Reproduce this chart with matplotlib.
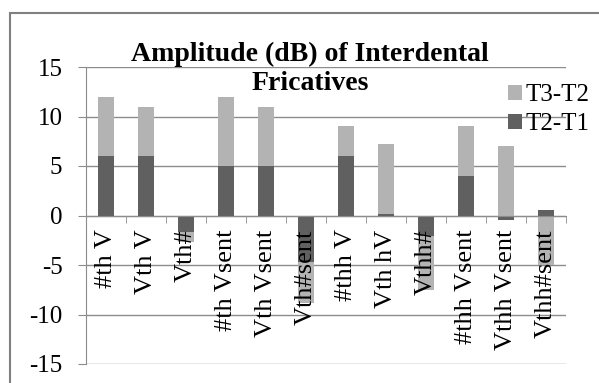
import numpy as np
import matplotlib.pyplot as plt
from matplotlib.patches import Rectangle

categories = ['#th V', 'Vth V', 'Vth#', '#th Vsent', 'Vth Vsent', 'Vth#sent',
              '#thh V', 'Vth hV', 'Vthh#', '#thh Vsent', 'Vthh Vsent', 'Vthh#sent']
t2_t1 = [6, 6, -1.7, 5, 5, -4.7, 6, 0.2, -2.1, 4, -0.5, 0.6]
t3_t2 = [6, 5, -1.0, 7, 6, -4.1, 3, 7, -5.4, 5, 7, -5.0]

dark = '#606060'
light = '#b3b3b3'
grid_c = '#8c8c8c'

plt.rcParams['font.family'] = ['Liberation Serif', 'DejaVu Serif']
plt.rcParams['axes.unicode_minus'] = False

fig = plt.figure(figsize=(5.99, 3.83), dpi=100)
ax = fig.add_axes([86 / 599, 1 - 364 / 383, 480 / 599, 297 / 383])

x = np.arange(len(categories))
pos = np.zeros(len(x))
neg = np.zeros(len(x))
for vals, col, lab in [(t2_t1, dark, 'T2-T1'), (t3_t2, light, 'T3-T2')]:
    v = np.array(vals, dtype=float)
    bottom = np.where(v >= 0, pos, neg)
    ax.bar(x, v, 0.4, bottom=bottom, color=col, label=lab, zorder=2)
    pos = pos + np.where(v >= 0, v, 0)
    neg = neg + np.where(v < 0, v, 0)

ax.set_xlim(-0.5, len(x) - 0.5)
ax.set_ylim(-15, 15)
ax.set_yticks(range(-15, 16, 5))
ax.yaxis.grid(True, color=grid_c, linewidth=1)
ax.set_axisbelow(True)

for s in ['top', 'right']:
    ax.spines[s].set_visible(False)
ax.spines['left'].set_color(grid_c)
ax.spines['bottom'].set_position(('data', 0))
ax.spines['bottom'].set_color(grid_c)

# category labels drawn on top of the bars, just under the zero line
ax.set_xticks([])
ax.set_xticks(np.arange(-0.5, len(x)), minor=True)
ax.tick_params(axis='x', which='minor', length=5, color=grid_c)
for i, c in enumerate(categories):
    ax.annotate(c, (i, 0), xytext=(0, -10), textcoords='offset points',
                rotation=90, ha='center', va='top', fontsize=19, zorder=5)
ax.tick_params(axis='y', length=6, color=grid_c, labelsize=18, pad=11)

fig.text(0.5175, 0.821, 'Amplitude (dB) of Interdental\nFricatives', ha='center',
         va='center', fontsize=20, fontweight='bold', linespacing=1.2)

h, l = ax.get_legend_handles_labels()
fig.legend(h[::-1], l[::-1], loc='upper left', bbox_to_anchor=(508 / 599, 1 - 84 / 383),
           frameon=False, fontsize=18, handlelength=0.55, handleheight=0.55,
           handletextpad=0.15, labelspacing=0.3, borderpad=0, borderaxespad=0)

fig.patches.append(Rectangle((10 / 599, -0.1), 1.2, 1 - 13 / 383 + 0.1,
                             transform=fig.transFigure, fill=False,
                             edgecolor='#808080', linewidth=1.5))

fig.savefig('out.png', dpi=100)
